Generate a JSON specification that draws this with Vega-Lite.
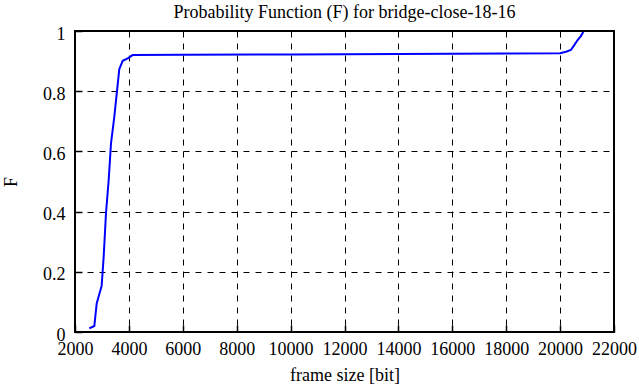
{
  "$schema": "https://vega.github.io/schema/vega-lite/v6.json",
  "width": 539,
  "height": 301,
  "autosize": {"type": "none"},
  "padding": {"left": 75, "top": 31, "right": 26, "bottom": 55},
  "background": "white",
  "title": {"text": "Probability Function (F) for bridge-close-18-16", "font": "Liberation Serif", "fontSize": 18, "fontWeight": "normal", "color": "black", "offset": 3},
  "config": {
    "view": {"stroke": "black", "strokeWidth": 2},
    "axis": {"labelFont": "Liberation Serif", "titleFont": "Liberation Serif", "labelFontSize": 18, "titleFontSize": 18, "titleFontWeight": "normal", "labelColor": "black", "titleColor": "black", "grid": true, "gridColor": "black", "gridDash": [6, 6], "gridOpacity": 1, "gridWidth": 1, "domain": false, "tickColor": "black", "tickSize": -7, "tickWidth": 1.5}
  },
  "data": {"values": [
    {"x": 2531, "y": 0.012}, {"x": 2717, "y": 0.02}, {"x": 2805, "y": 0.095}, {"x": 2903, "y": 0.126},
    {"x": 2990, "y": 0.154}, {"x": 3064, "y": 0.25}, {"x": 3150, "y": 0.395}, {"x": 3250, "y": 0.505},
    {"x": 3336, "y": 0.627}, {"x": 3458, "y": 0.715}, {"x": 3558, "y": 0.8}, {"x": 3643, "y": 0.873},
    {"x": 3770, "y": 0.901}, {"x": 3955, "y": 0.909}, {"x": 4140, "y": 0.92}, {"x": 6000, "y": 0.921},
    {"x": 10000, "y": 0.922}, {"x": 14000, "y": 0.924}, {"x": 18000, "y": 0.925}, {"x": 20000, "y": 0.926},
    {"x": 20220, "y": 0.931}, {"x": 20400, "y": 0.937}, {"x": 20525, "y": 0.953}, {"x": 20650, "y": 0.97},
    {"x": 20770, "y": 0.983}, {"x": 20860, "y": 0.997}
  ]},
  "mark": {"type": "line", "color": "blue", "strokeWidth": 2},
  "encoding": {
    "x": {"field": "x", "type": "quantitative", "scale": {"domain": [2000, 22000], "nice": false}, "axis": {"title": "frame size [bit]", "values": [2000,4000,6000,8000,10000,12000,14000,16000,18000,20000,22000], "format": "d", "labelPadding": 15, "titlePadding": 8, "labelFlush": false, "labelOverlap": false}},
    "y": {"field": "y", "type": "quantitative", "scale": {"domain": [0, 1], "nice": false}, "axis": {"title": "F", "values": [0,0.2,0.4,0.6,0.8,1], "format": "~g", "labelPadding": 17, "labelOffset": 3, "titlePadding": 22, "labelFlush": false}}
  }
}
